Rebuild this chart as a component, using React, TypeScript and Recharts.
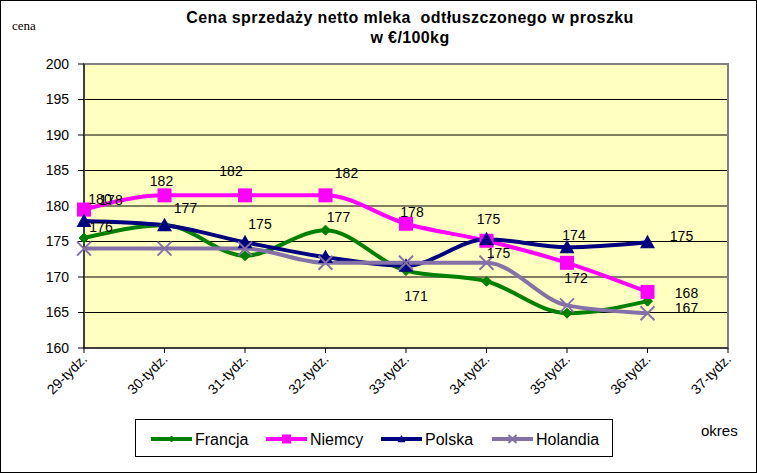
import React from "react";
import {
  LineChart,
  Line,
  XAxis,
  YAxis,
  CartesianGrid,
  LabelList,
  ReferenceArea,
} from "recharts";

const weeks = [
  "29-tydz.",
  "30-tydz.",
  "31-tydz.",
  "32-tydz.",
  "33-tydz.",
  "34-tydz.",
  "35-tydz.",
  "36-tydz.",
  "37-tydz.",
];

const francja = [175.5, 177.3, 173.0, 176.6, 170.9, 169.4, 164.9, 166.6, null];
const niemcy = [179.5, 181.5, 181.5, 181.5, 177.5, 175.1, 172.0, 167.9, null];
const polska = [177.9, 177.3, 174.9, 172.8, 171.6, 175.3, 174.2, 174.9, null];
const holandia = [174.0, 174.0, 174.0, 172.0, 172.0, 172.0, 166.0, 164.9, null];

const yTicks = [160, 165, 170, 175, 180, 185, 190, 195, 200];

const data = weeks.map((week, i) => ({
  week,
  francja: francja[i],
  niemcy: niemcy[i],
  polska: polska[i],
  holandia: holandia[i],
}));

// where the data labels sit, relative to the point (index -> [dx, dy])
const labelSpots: Record<string, Record<number, [number, number]>> = {
  francja: { 0: [17, -11], 3: [13, -13], 4: [10, 25], 7: [39, 7] },
  niemcy: {
    0: [16, -11],
    1: [-3, -14],
    2: [-14, -24],
    3: [21, -22],
    4: [6, -12],
    5: [12, 12],
    6: [9, 15],
    7: [39, 1],
  },
  polska: { 0: [27, -21], 1: [21, -17], 2: [15, -18], 5: [2, -20], 6: [7, -12], 7: [34, -6] },
  holandia: {},
};

const COLORS = {
  francja: "#008000",
  niemcy: "#FF00FF",
  polska: "#000080",
  holandia: "#8471A8",
};

const FONT = "'Liberation Sans', Arial, sans-serif";

const Marker = ({ kind, cx, cy, size, color }: any) => {
  if (cx == null || cy == null) return null;
  const s = size / 2;
  if (kind === "diamond")
    return <polygon points={`${cx},${cy - s} ${cx + s},${cy} ${cx},${cy + s} ${cx - s},${cy}`} fill={color} stroke={color} />;
  if (kind === "square")
    return <rect x={cx - s} y={cy - s} width={size} height={size} fill={color} />;
  if (kind === "triangle")
    return <polygon points={`${cx},${cy - s} ${cx + s},${cy + s * 0.8} ${cx - s},${cy + s * 0.8}`} fill={color} />;
  return (
    <g stroke={color} strokeWidth={2}>
      <line x1={cx - s} y1={cy - s} x2={cx + s} y2={cy + s} />
      <line x1={cx - s} y1={cy + s} x2={cx + s} y2={cy - s} />
    </g>
  );
};

const makeDot = (kind: string, size: number, color: string) => (props: any) => {
  const { cx, cy, value, index } = props;
  if (value == null) return <g key={index} />;
  return <Marker key={index} kind={kind} cx={cx} cy={cy} size={size} color={color} />;
};

const makeLabel = (key: string) => (props: any) => {
  const { x, y, value, index } = props;
  const spot = labelSpots[key][index];
  if (!spot || value == null) return null;
  return (
    <text
      x={x + spot[0]}
      y={y + spot[1]}
      textAnchor="middle"
      dominantBaseline="central"
      fontSize={14}
      fontFamily={FONT}
      fill="#000"
    >
      {Math.round(value)}
    </text>
  );
};

const XTick = ({ x, y, payload }: any) => (
  <text
    x={x + 4}
    y={y + 5}
    transform={`rotate(-45, ${x + 4}, ${y + 5})`}
    textAnchor="end"
    fontSize={14}
    fontFamily={FONT}
    fill="#000"
  >
    {payload.value}
  </text>
);

const series = [
  { key: "francja", name: "Francja", kind: "diamond", size: 10, legendSize: 6 },
  { key: "niemcy", name: "Niemcy", kind: "square", size: 14, legendSize: 9 },
  { key: "polska", name: "Polska", kind: "triangle", size: 15, legendSize: 8 },
  { key: "holandia", name: "Holandia", kind: "x", size: 14, legendSize: 8 },
];

const legendX = [150, 265, 380, 491];

const App = () => {
  return (
    <div
      style={{
        position: "fixed",
        left: 0,
        top: 0,
        width: 757,
        height: 473,
        boxSizing: "border-box",
        border: "1px solid #000",
        background: "#fff",
      }}
    >
      <div
        style={{
          position: "absolute",
          left: 0,
          top: 7,
          width: 818,
          textAlign: "center",
          fontFamily: FONT,
          fontWeight: "bold",
          fontSize: 16,
          letterSpacing: 0.4,
          lineHeight: "20px",
        }}
      >
        Cena sprzedaży netto mleka&nbsp; odtłuszczonego w proszku
        <br />w €/100kg
      </div>
      <div
        style={{
          position: "absolute",
          left: 11,
          top: 17,
          fontFamily: "'Liberation Serif', 'Times New Roman', serif",
          fontSize: 13,
        }}
      >
        cena
      </div>
      <div
        style={{
          position: "absolute",
          left: 700,
          top: 421,
          fontFamily: FONT,
          fontSize: 15,
        }}
      >
        okres
      </div>
      <div style={{ position: "absolute", left: -1, top: -1 }}>
        <LineChart
          width={757}
          height={473}
          data={data}
          margin={{ top: 64, right: 29, bottom: 95, left: 18 }}
        >
          <CartesianGrid vertical={false} stroke="#000" fill="#FFFFC0" horizontalValues={yTicks} />
          <ReferenceArea
            y1={160}
            y2={200}
            fill="none"
            stroke="#808080"
            strokeWidth={2}
            ifOverflow="visible"
          />
          <XAxis
            dataKey="week"
            interval={0}
            height={30}
            tick={<XTick />}
            tickLine={{ stroke: "#000" }}
            axisLine={{ stroke: "#000" }}
            tickSize={5}
            padding={{ left: 0, right: 0 }}
          />
          <YAxis
            domain={[160, 200]}
            ticks={yTicks}
            interval={0}
            width={66}
            tick={{ fontSize: 14, fontFamily: FONT, fill: "#000" }}
            tickLine={{ stroke: "#000" }}
            axisLine={{ stroke: "#000" }}
            tickSize={6}
            tickMargin={9}
          />
          {series.map((s) => (
            <Line
              key={s.key}
              type="monotone"
              dataKey={s.key}
              name={s.name}
              stroke={COLORS[s.key as keyof typeof COLORS]}
              strokeWidth={4}
              dot={makeDot(s.kind, s.size, COLORS[s.key as keyof typeof COLORS])}
              activeDot={false}
              isAnimationActive={false}
            >
              <LabelList dataKey={s.key} content={makeLabel(s.key)} />
            </Line>
          ))}
        </LineChart>
      </div>
      <div
        style={{
          position: "absolute",
          left: 134,
          top: 418,
          width: 478,
          height: 38,
          boxSizing: "border-box",
          border: "1px solid #000",
          background: "#fff",
        }}
      >
        <svg width={476} height={36} style={{ position: "absolute", left: 0, top: 0 }}>
          {series.map((s, i) => {
            const x0 = legendX[i] - 135;
            const color = COLORS[s.key as keyof typeof COLORS];
            return (
              <g key={s.key}>
                <line x1={x0} y1={19} x2={x0 + 41} y2={19} stroke={color} strokeWidth={4} />
                <Marker kind={s.kind} cx={x0 + 20.5} cy={19} size={s.legendSize} color={color} />
                <text x={x0 + 44} y={19} dominantBaseline="central" fontSize={16} fontFamily={FONT} fill="#000">
                  {s.name}
                </text>
              </g>
            );
          })}
        </svg>
      </div>
    </div>
  );
};

export default App;
